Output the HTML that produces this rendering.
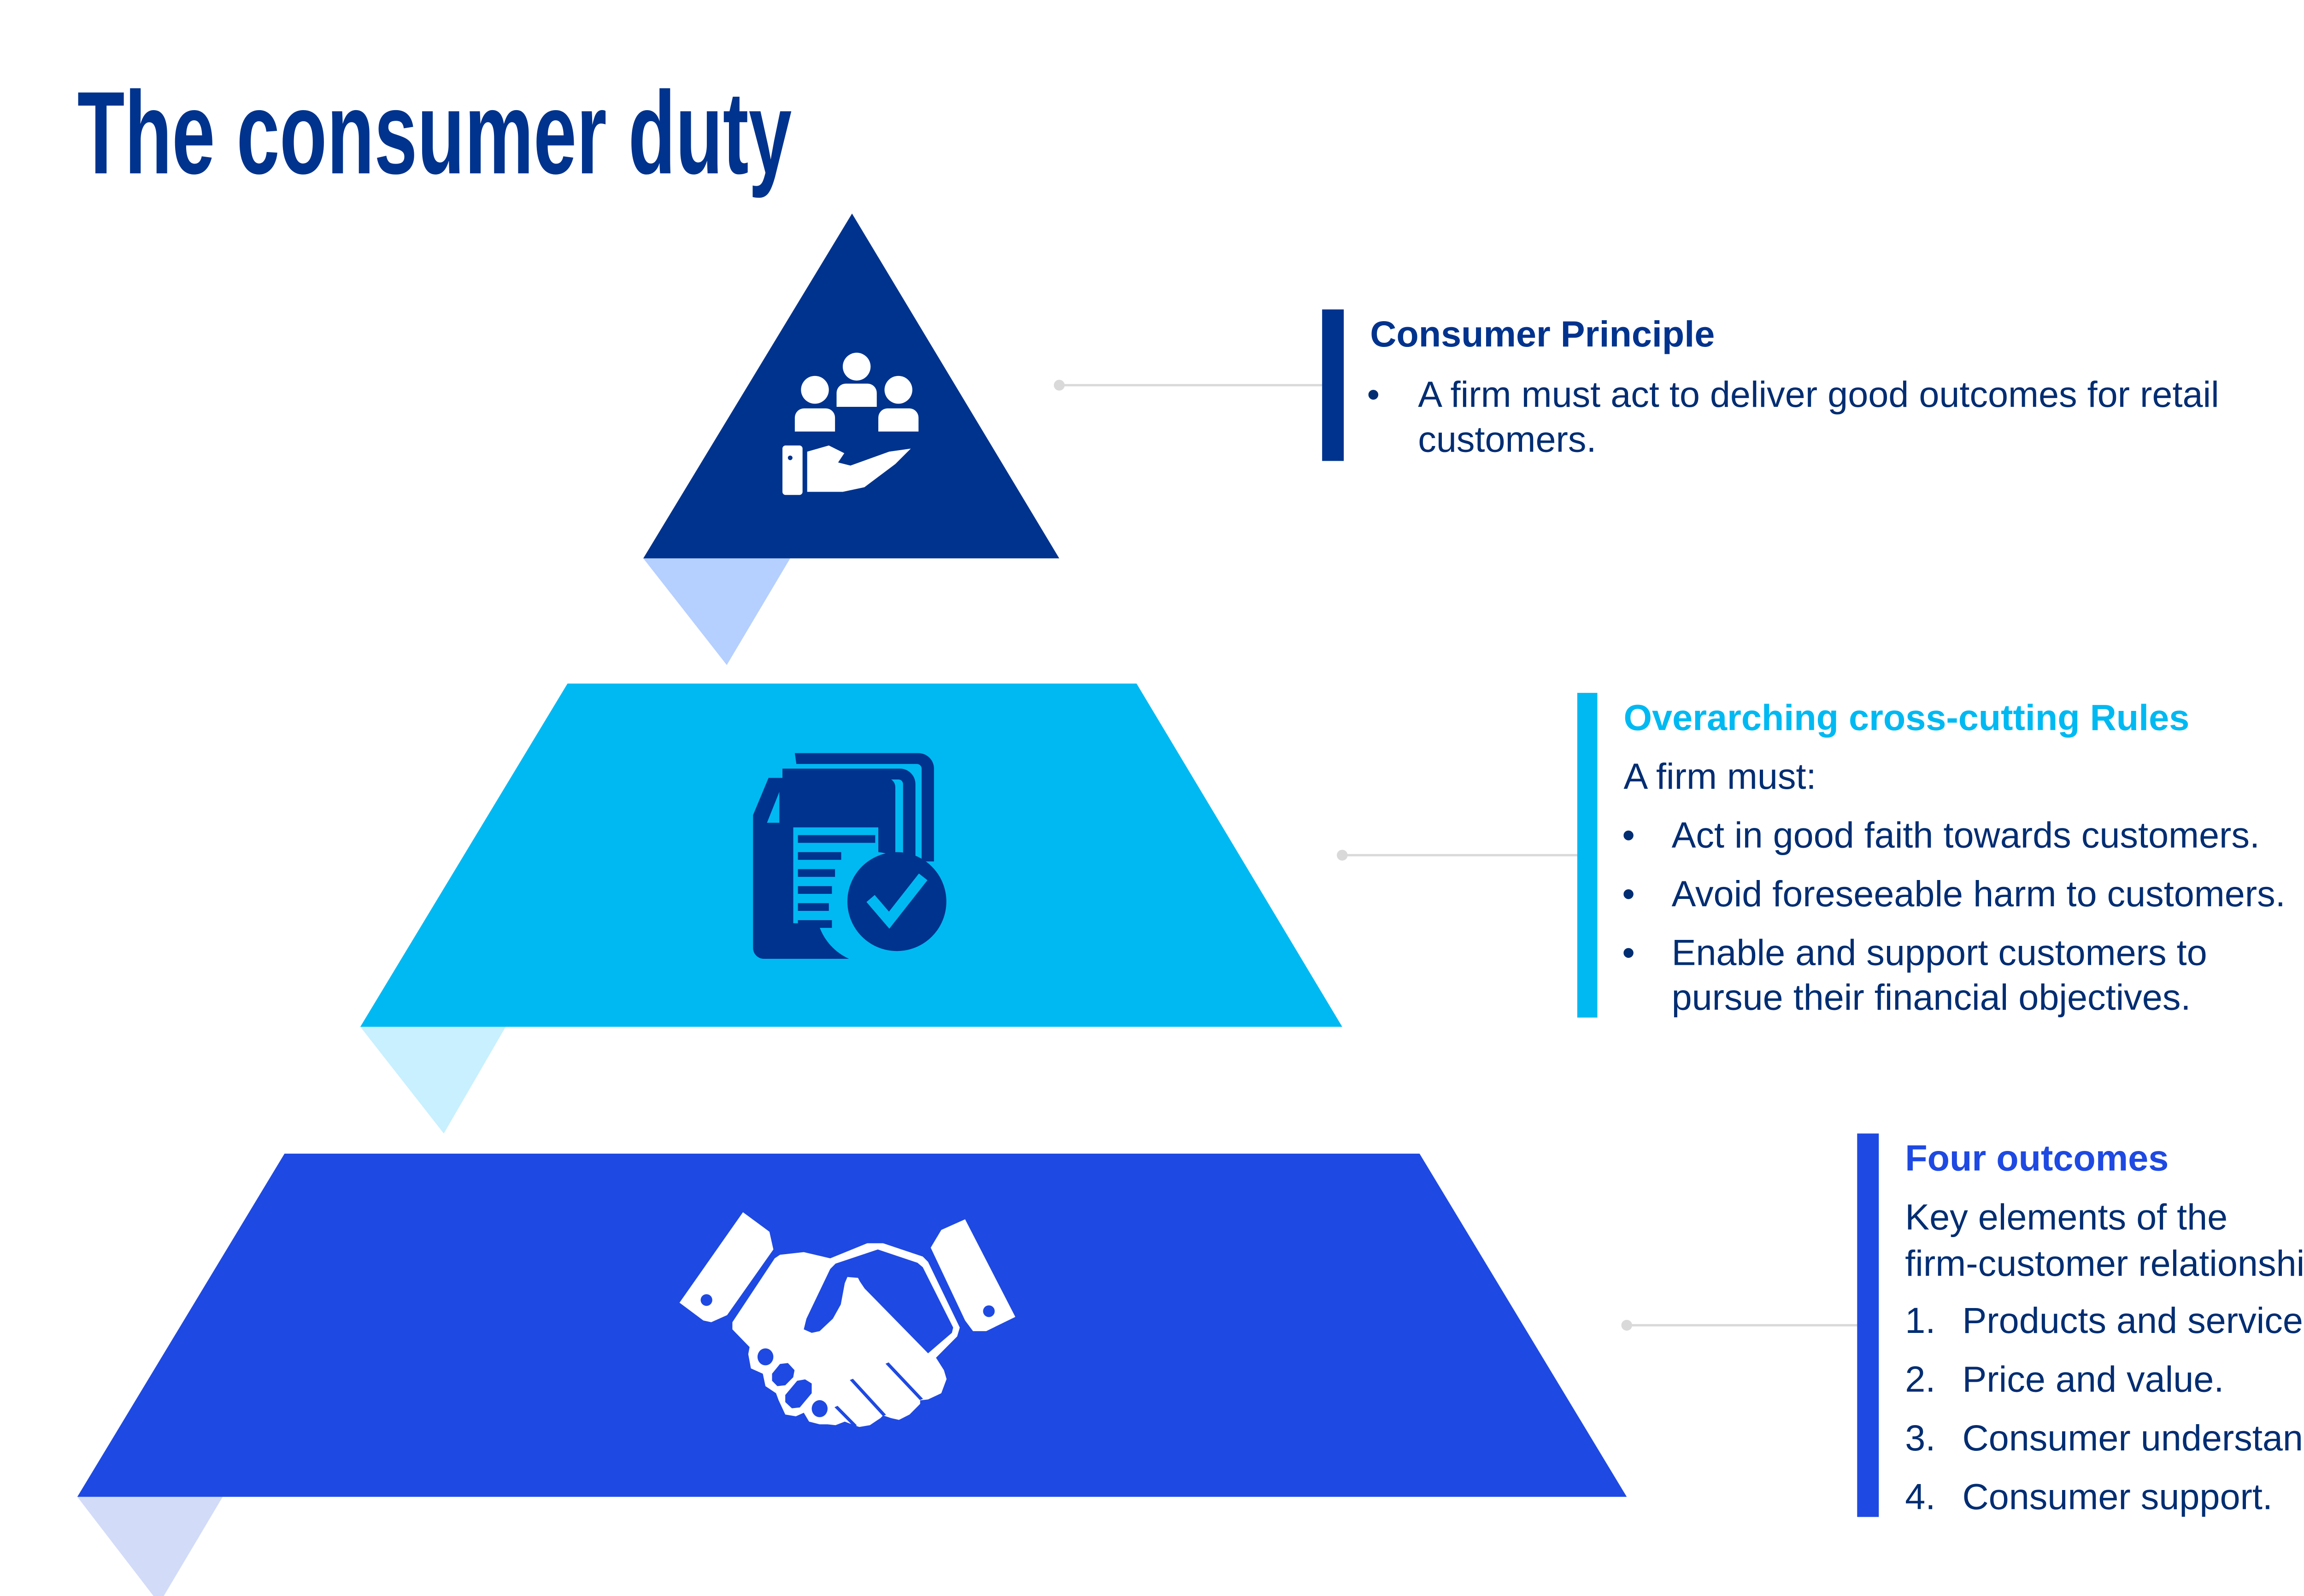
<!DOCTYPE html>
<html><head><meta charset="utf-8"><style>
html,body{margin:0;padding:0;background:#fff;}
svg{display:block;}
</style></head><body>
<svg width="5235" height="3464" viewBox="0 0 1560 1032" xmlns="http://www.w3.org/2000/svg" font-family="Liberation Sans, Arial, sans-serif">
<rect width="1560" height="1032" fill="#fff"/>
<text x="50" y="112" font-size="76" font-weight="bold" fill="#00338D" textLength="462" lengthAdjust="spacingAndGlyphs">The consumer duty</text>

<polygon points="416,361 511,361 470,430" fill="#B5CFFF"/>
<polygon points="233,664 327,664 287,733" fill="#C8F0FF"/>
<polygon points="50,968 144,968 103,1037" fill="#D2DBF8"/>
<polygon points="551,138 685,361 416,361" fill="#00338D"/>
<polygon points="367,442 735,442 868,664 233,664" fill="#00B9F2"/>
<polygon points="184,746 918,746 1052,968 50,968" fill="#1E49E2"/>

<!-- icon 1 -->
<g fill="#fff">
<circle cx="554" cy="237" r="9"/>
<path d="M541,263 v-9 a6,6 0 0 1 6,-6 h14 a6,6 0 0 1 6,6 v9 z"/>
<circle cx="527" cy="252" r="9"/>
<path d="M514,279 v-9 a6,6 0 0 1 6,-6 h14 a6,6 0 0 1 6,6 v9 z"/>
<circle cx="581" cy="252" r="9"/>
<path d="M568,279 v-9 a6,6 0 0 1 6,-6 h14 a6,6 0 0 1 6,6 v9 z"/>
<rect x="506" y="288" width="13" height="32" rx="2"/>
<path d="M522,292 l14,-4 l10,5 l-4,6 l8,2 l25,-9 l14,-2 l-10,10 l-20,15 l-14,3 h-23 z"/>
</g>
<circle cx="511" cy="296" r="1.5" fill="#00338D"/>

<!-- icon 2 -->
<g fill="#00338D">
<path d="M514,487 h80 a10,10 0 0 1 10,10 v60 h-8 v-60 a3,3 0 0 0 -3,-3 h-78 z"/>
<path d="M506,497 h76 a10,10 0 0 1 10,10 v50 h-8 v-50 a3,3 0 0 0 -3,-3 h-75 z"/>
<path d="M487,527 l10,-24 h76 a6,6 0 0 1 6,6 v45 a36,36 0 0 0 -30,66 h-55 a7,7 0 0 1 -7,-7 z"/>
</g>
<path d="M496,532 l8,-20 v20 z" fill="#00B9F2"/>
<rect x="513" y="535" width="55" height="62" fill="#00B9F2"/>
<g fill="#00338D">
<rect x="516" y="540" width="50" height="5"/>
<rect x="516" y="551" width="28" height="5"/>
<rect x="516" y="562" width="24" height="5"/>
<rect x="516" y="573" width="22" height="5"/>
<rect x="516" y="584" width="20" height="5"/>
<rect x="516" y="595" width="22" height="5"/>
<circle cx="580" cy="583" r="32"/>
</g>
<path d="M563,581 l12,14 l22,-28" fill="none" stroke="#00B9F2" stroke-width="7"/>

<!-- icon 3: handshake -->
<g transform="translate(417.2,774.7) scale(0.171,0.1148)">
<g fill="#fff">
<path d="M370,80 L470,190 L485,290 L310,660 L250,700 L220,690 L130,590 Z"/>
<path d="M1210,120 L1400,670 L1290,750 L1240,750 L1210,690 L1080,280 L1120,180 Z"/>
<path d="M330,700 L490,340 L510,320 L600,305 L700,340 L840,255 L900,255 L1050,330 L1070,360 L1190,730 L1180,780 L1100,900 L1130,970 L1140,1020 L1120,1100 L1070,1135 L1040,1140 L1040,1160 L1000,1220 L960,1250 L930,1240 L900,1225 L890,1240 L850,1280 L810,1290 L790,1280 L755,1260 L720,1280 L690,1275 L660,1275 L620,1260 L600,1210 L570,1230 L530,1220 L505,1140 L495,1100 L455,1060 L445,990 L400,960 L390,880 L395,840 L330,740 Z"/>
</g>
<g fill="#1E49E2">
<path d="M700,400 L720,370 L880,290 L1030,365 L1050,390 L1165,730 L1160,760 L1070,875 L830,510 L812,470 L805,450 L765,445 L755,480 L740,600 L710,680 L660,750 L630,760 L600,740 L610,680 Z"/>
<ellipse cx="232" cy="575" rx="22" ry="33"/>
<ellipse cx="1300" cy="638" rx="22" ry="33"/>
<ellipse cx="455" cy="895" rx="30" ry="48"/>
<path d="M480,990 L510,935 L540,930 L565,970 L560,1010 L530,1055 L500,1060 L480,1030 Z"/>
<path d="M530,1110 L575,1030 L605,1022 L630,1045 L630,1100 L585,1180 L555,1185 L530,1150 Z"/>
<ellipse cx="660" cy="1187" rx="30" ry="48"/>
</g>
<g fill="none" stroke="#1E49E2" stroke-width="14">
<path d="M915,930 L1045,1135"/>
<path d="M780,1022 L905,1225"/>
<path d="M722,1175 L795,1285"/>
</g>
</g>

<!-- connectors -->
<g stroke="#D9D9D9" stroke-width="1.5">
<line x1="685" y1="249" x2="855" y2="249"/>
<line x1="868" y1="553" x2="1020" y2="553"/>
<line x1="1052" y1="857" x2="1201" y2="857"/>
</g>
<g fill="#D9D9D9">
<circle cx="685" cy="249" r="3.5"/>
<circle cx="868" cy="553" r="3.5"/>
<circle cx="1052" cy="857" r="3.5"/>
</g>
<rect x="855" y="200" width="14" height="98" fill="#00338D"/>
<rect x="1020" y="448" width="13" height="210" fill="#00B9F2"/>
<rect x="1201" y="733" width="14" height="248" fill="#1E49E2"/>

<g font-size="23.6" fill="#002D72">
<text x="886" y="224" font-weight="bold" fill="#00338D">Consumer Principle</text>
<text x="884" y="263">•</text>
<text x="917" y="263">A firm must act to deliver good outcomes for retail</text>
<text x="917" y="292">customers.</text>

<text x="1050" y="472" font-weight="bold" fill="#00B9F2">Overarching cross-cutting Rules</text>
<text x="1050" y="510">A firm must:</text>
<text x="1049" y="548">•</text><text x="1081" y="548">Act in good faith towards customers.</text>
<text x="1049" y="586">•</text><text x="1081" y="586">Avoid foreseeable harm to customers.</text>
<text x="1049" y="624">•</text><text x="1081" y="624">Enable and support customers to</text>
<text x="1081" y="653">pursue their financial objectives.</text>

<text x="1232" y="757" font-weight="bold" fill="#1E49E2">Four outcomes</text>
<text x="1232" y="795">Key elements of the</text>
<text x="1232" y="825">firm-customer relationship:</text>
<text x="1232" y="862">1.</text><text x="1269" y="862">Products and services.</text>
<text x="1232" y="900">2.</text><text x="1269" y="900">Price and value.</text>
<text x="1232" y="938">3.</text><text x="1269" y="938">Consumer understanding.</text>
<text x="1232" y="976">4.</text><text x="1269" y="976">Consumer support.</text>
</g>
</svg>
</body></html>
